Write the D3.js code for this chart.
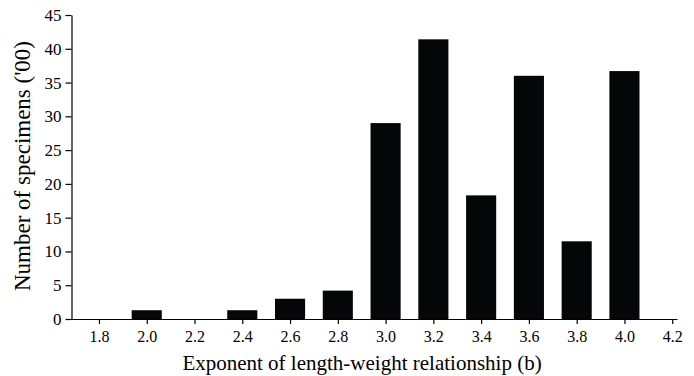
<!DOCTYPE html>
<html>
<head>
<meta charset="utf-8">
<script src="https://cdn.jsdelivr.net/npm/d3@7"></script>
<style>
  body { margin: 0; background: #fff; }
  text { font-family: "Liberation Serif", "Times New Roman", serif; fill: #000; }
</style>
</head>
<body>
<div id="chart"></div>
<script>
// exponent b classes and specimen counts (hundreds)
const bins = [1.8, 2.0, 2.2, 2.4, 2.6, 2.8, 3.0, 3.2, 3.4, 3.6, 3.8, 4.0, 4.2];
const counts = [0, 1.3, 0, 1.3, 3.0, 4.2, 29.0, 41.4, 18.3, 36.0, 11.5, 36.7, 0];
const yTicks = [0, 5, 10, 15, 20, 25, 30, 35, 40, 45];

const width = 694, height = 376;
const yAxisX = 71.5;

const svg = d3.select('#chart').append('svg')
  .attr('width', width)
  .attr('height', height);

const x = d3.scaleLinear()
  .domain([1.662, 4.22])
  .range([66, 677]);

const y = d3.scaleLinear()
  .domain([0, 45])
  .range([319, 15]);

const data = bins.map((b, i) => ({ b: b, v: counts[i] }));
const bw = (x(2.0) - x(1.8)) * 0.63;

// bars
svg.append('g')
  .selectAll('rect')
  .data(data.filter(d => d.v > 0))
  .enter()
  .append('rect')
  .attr('x', d => x(d.b) - bw / 2)
  .attr('width', bw)
  .attr('y', d => y(d.v))
  .attr('height', d => y(0) - y(d.v))
  .style('fill', '#050608');

// x axis
const xAxis = svg.append('g')
  .attr('transform', `translate(0, ${y(0)})`)
  .call(d3.axisBottom(x).tickValues(bins).tickFormat(d3.format('.1f')).tickSize(5).tickSizeOuter(0).tickPadding(7));
xAxis.selectAll('text').style('font-size', '16px');

// y axis
const yAxis = svg.append('g')
  .attr('transform', `translate(${yAxisX}, 0)`)
  .call(d3.axisLeft(y).tickValues(yTicks).tickSize(6).tickSizeOuter(0).tickPadding(4));
yAxis.selectAll('text').style('font-size', '17px');

svg.selectAll('.domain, .tick line').attr('stroke', '#000').attr('stroke-width', 1.2);

// titles
svg.append('text')
  .attr('x', 362)
  .attr('y', 370)
  .attr('text-anchor', 'middle')
  .style('font-size', '21px')
  .text('Exponent of length-weight relationship (b)');

svg.append('text')
  .attr('transform', 'translate(30, 166) rotate(-90)')
  .attr('text-anchor', 'middle')
  .style('font-size', '23px')
  .text("Number of specimens ('00)");
</script>
</body>
</html>
